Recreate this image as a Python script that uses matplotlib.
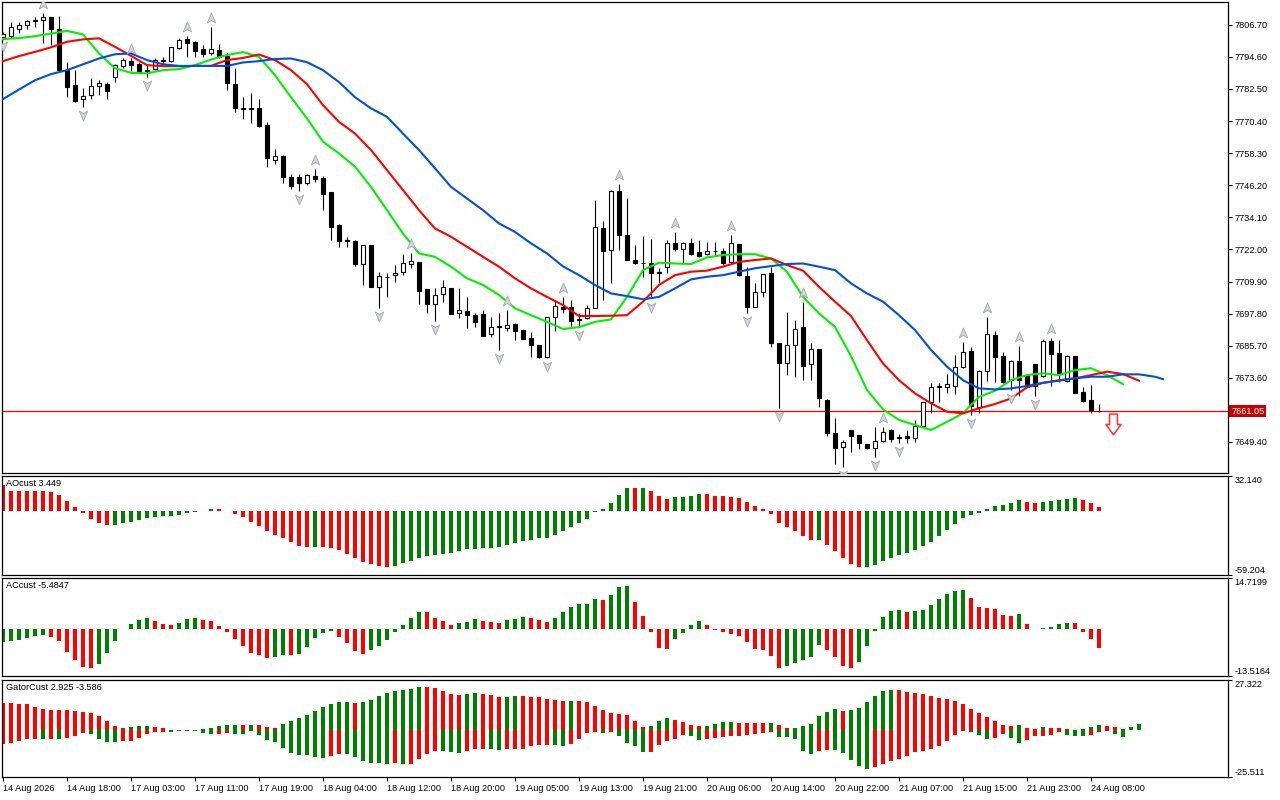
import matplotlib
matplotlib.use('Agg')
import matplotlib.pyplot as plt
import numpy as np
from matplotlib.path import Path
from matplotlib.transforms import offset_copy

plt.rcParams['font.family'] = ['Liberation Sans', 'DejaVu Sans']
plt.rcParams['font.size'] = 6.6

# hourly candles, oldest first
OPEN = [7802.1, 7802.4, 7805.2, 7806.5, 7808.0, 7808.5, 7809.7, 7805.3, 7789.6, 7784.0,
        7778.6, 7780.1, 7783.5, 7784.3, 7787.1, 7791.1, 7793.0, 7791.9, 7789.4, 7789.9,
        7793.6, 7793.1, 7798.0, 7801.3, 7800.2, 7797.4, 7795.9, 7797.2, 7794.9, 7784.3,
        7775.5, 7775.2, 7775.2, 7768.9, 7755.9, 7757.3, 7749.2, 7749.2, 7746.9, 7749.6,
        7748.8, 7743.5, 7731.2, 7725.4, 7725.1, 7716.5, 7723.6, 7707.9, 7711.5, 7712.2,
        7713.6, 7716.4, 7717.1, 7706.9, 7701.4, 7705.2, 7707.3, 7697.9, 7698.9, 7697.2,
        7697.6, 7690.0, 7692.9, 7692.3, 7693.9, 7691.6, 7688.5, 7685.9, 7681.5, 7696.4,
        7700.4, 7700.4, 7695.5, 7696.0, 7699.8, 7729.9, 7721.8, 7744.0, 7727.4, 7718.2,
        7716.8, 7717.0, 7713.3, 7715.2, 7724.3, 7722.0, 7724.3, 7720.9, 7720.2, 7721.3,
        7721.4, 7717.3, 7724.0, 7711.9, 7700.4, 7706.0, 7713.0, 7686.6, 7679.0, 7685.9,
        7692.8, 7678.8, 7684.4, 7665.2, 7652.6, 7647.5, 7653.9, 7652.0, 7648.6, 7647.0,
        7649.9, 7653.9, 7650.8, 7651.6, 7650.8, 7655.5, 7664.6, 7670.3, 7670.2, 7670.5,
        7677.5, 7683.8, 7662.7, 7676.2, 7689.7, 7681.8, 7672.7, 7679.9, 7674.6, 7678.8,
        7674.2, 7687.6, 7682.8, 7672.5, 7681.8, 7668.1, 7665.2, 7661.1]
HIGH = [7803.9, 7807.8, 7807.7, 7808.7, 7809.7, 7811.0, 7809.7, 7810.0, 7792.7, 7789.6,
        7782.7, 7786.5, 7785.8, 7785.2, 7792.1, 7794.2, 7794.0, 7792.7, 7791.5, 7794.0,
        7794.6, 7798.4, 7801.6, 7802.5, 7800.5, 7799.0, 7805.9, 7799.4, 7795.9, 7790.3,
        7779.5, 7780.8, 7778.6, 7769.9, 7759.7, 7757.6, 7750.4, 7750.4, 7750.4, 7752.2,
        7749.6, 7743.5, 7731.6, 7726.8, 7725.5, 7723.6, 7723.6, 7713.6, 7713.2, 7716.0,
        7720.2, 7720.5, 7717.1, 7706.9, 7707.3, 7710.4, 7707.3, 7707.3, 7704.1, 7697.9,
        7699.1, 7696.6, 7697.9, 7699.1, 7694.3, 7691.6, 7690.9, 7685.9, 7696.6, 7702.9,
        7704.1, 7702.9, 7697.9, 7701.0, 7740.6, 7732.7, 7744.4, 7746.6, 7741.5, 7723.6,
        7727.0, 7725.8, 7714.9, 7725.5, 7728.6, 7724.9, 7726.2, 7725.5, 7724.9, 7724.9,
        7722.4, 7727.4, 7724.0, 7715.5, 7709.4, 7712.7, 7715.5, 7686.6, 7698.5, 7695.4,
        7702.3, 7686.8, 7684.4, 7665.5, 7658.3, 7650.1, 7653.9, 7652.0, 7648.6, 7655.1,
        7655.1, 7654.3, 7652.4, 7653.9, 7657.7, 7664.6, 7671.7, 7671.7, 7675.0, 7682.2,
        7687.2, 7685.1, 7676.5, 7696.6, 7691.2, 7683.4, 7680.3, 7685.6, 7674.6, 7678.8,
        7688.1, 7688.5, 7687.8, 7682.3, 7681.8, 7670.2, 7670.9, 7663.9]
LOW = [7801.7, 7801.9, 7803.6, 7805.0, 7805.9, 7799.9, 7799.0, 7789.0, 7779.5, 7777.7,
       7775.8, 7778.9, 7780.4, 7778.8, 7785.2, 7790.3, 7789.2, 7788.4, 7787.1, 7789.6,
       7792.1, 7792.6, 7797.5, 7794.4, 7794.6, 7794.6, 7795.3, 7794.0, 7782.3, 7773.9,
       7771.0, 7769.5, 7768.2, 7753.2, 7754.4, 7747.1, 7744.6, 7744.1, 7746.3, 7747.5,
       7736.8, 7725.5, 7722.8, 7722.8, 7715.8, 7708.6, 7707.7, 7699.8, 7704.1, 7709.8,
       7712.3, 7714.9, 7701.4, 7698.1, 7695.1, 7702.3, 7697.6, 7696.0, 7692.2, 7692.8,
       7689.4, 7688.8, 7684.1, 7691.3, 7687.8, 7688.1, 7681.3, 7680.9, 7680.9, 7691.3,
       7698.0, 7693.1, 7692.8, 7695.6, 7699.8, 7702.9, 7709.2, 7721.8, 7718.0, 7716.5,
       7711.7, 7703.5, 7709.2, 7713.3, 7721.5, 7716.7, 7719.9, 7719.2, 7719.9, 7719.9,
       7716.1, 7716.7, 7711.9, 7697.9, 7700.4, 7703.9, 7685.3, 7662.1, 7674.6, 7674.0,
       7672.7, 7672.7, 7662.4, 7651.6, 7641.1, 7639.9, 7645.7, 7646.7, 7646.8, 7643.6,
       7649.5, 7649.5, 7648.9, 7649.1, 7649.5, 7655.1, 7660.4, 7664.6, 7667.9, 7667.5,
       7677.2, 7659.5, 7660.2, 7672.5, 7672.1, 7671.7, 7669.0, 7666.7, 7670.2, 7666.7,
       7673.8, 7670.5, 7672.1, 7672.1, 7667.7, 7664.6, 7660.2, 7660.8]
CLOSE = [7803.2, 7805.7, 7806.8, 7808.0, 7808.7, 7809.7, 7805.0, 7789.6, 7783.3, 7778.0,
         7779.7, 7783.6, 7784.7, 7781.8, 7791.5, 7793.4, 7791.6, 7788.6, 7789.8, 7793.6,
         7793.1, 7798.2, 7800.9, 7799.9, 7796.9, 7795.6, 7797.4, 7794.4, 7784.6, 7775.5,
         7774.8, 7775.1, 7768.5, 7756.3, 7757.3, 7749.4, 7746.1, 7747.1, 7749.9, 7748.6,
         7742.9, 7730.5, 7725.3, 7725.2, 7716.4, 7723.6, 7707.7, 7711.9, 7711.6, 7713.2,
         7716.7, 7717.5, 7706.4, 7701.4, 7705.0, 7707.7, 7697.6, 7699.1, 7697.2, 7694.7,
         7689.4, 7692.6, 7692.8, 7693.4, 7691.3, 7688.1, 7685.9, 7681.5, 7696.6, 7700.6,
         7699.5, 7695.1, 7695.6, 7699.8, 7730.5, 7721.5, 7744.0, 7727.4, 7718.2, 7716.7,
         7716.7, 7713.0, 7713.2, 7724.3, 7722.0, 7724.3, 7720.2, 7719.6, 7721.4, 7721.4,
         7716.7, 7724.3, 7712.3, 7700.4, 7706.0, 7712.7, 7686.6, 7679.0, 7685.9, 7691.9,
         7678.0, 7684.3, 7665.8, 7652.6, 7647.0, 7649.4, 7651.7, 7648.9, 7647.0, 7649.7,
         7653.3, 7650.4, 7651.4, 7650.8, 7655.4, 7664.3, 7670.0, 7670.6, 7671.1, 7677.8,
         7683.4, 7662.9, 7676.2, 7690.0, 7681.5, 7672.1, 7679.9, 7672.7, 7670.2, 7670.5,
         7687.6, 7682.5, 7675.5, 7681.8, 7668.0, 7664.9, 7661.4, 7661.05]

# alligator lines, read every second bar (they run past the last candle)
LIPS = [7801.3, 7801.7, 7802.4, 7803.4, 7804.4, 7803.1, 7795.9, 7790.3, 7788.6, 7788.4,
        7789.6, 7790.0, 7791.5, 7793.6, 7795.3, 7796.4, 7794.6, 7787.7, 7779.4, 7771.4,
        7762.6, 7758.2, 7753.2, 7745.6, 7736.8, 7728.0, 7720.5, 7719.2, 7715.5, 7711.1,
        7708.6, 7704.8, 7699.8, 7697.2, 7694.7, 7692.0, 7692.7, 7694.7, 7695.6, 7704.1,
        7714.2, 7717.0, 7716.7, 7716.5, 7719.0, 7719.9, 7720.2, 7720.2, 7718.6, 7713.6,
        7704.1, 7697.9, 7692.8, 7681.8, 7669.0, 7661.7, 7657.7, 7655.8, 7653.9, 7657.0,
        7660.2, 7666.4, 7668.7, 7672.7, 7674.6, 7675.3, 7674.6, 7676.5, 7677.2, 7674.6,
        7671.2]
TEETH = [7793.0, 7794.9, 7796.5, 7798.2, 7800.3, 7801.2, 7801.6, 7798.4, 7795.0, 7791.5,
         7791.1, 7791.1, 7791.2, 7791.2, 7793.4, 7794.2, 7795.5, 7793.4, 7789.6, 7784.3,
         7776.4, 7770.1, 7765.7, 7759.5, 7751.9, 7744.4, 7736.8, 7729.9, 7726.8, 7723.0,
         7719.2, 7715.5, 7711.1, 7707.3, 7704.1, 7701.0, 7696.9, 7696.9, 7697.0, 7697.2,
         7702.3, 7708.6, 7712.3, 7713.6, 7714.0, 7715.5, 7717.3, 7718.0, 7718.6, 7716.1,
         7714.0, 7707.9, 7702.3, 7696.9, 7687.8, 7679.0, 7672.7, 7667.7, 7664.0, 7660.8,
         7660.2, 7662.1, 7663.7, 7665.8, 7670.0, 7671.7, 7672.7, 7673.4, 7674.6, 7675.9,
         7675.0, 7672.5]
JAW = [7778.7, 7782.3, 7785.8, 7788.1, 7789.6, 7791.8, 7794.0, 7795.6, 7795.9, 7793.4,
       7791.8, 7791.2, 7791.2, 7791.2, 7791.2, 7792.5, 7793.0, 7793.8, 7794.0, 7792.6,
       7789.6, 7785.1, 7779.4, 7775.2, 7772.0, 7765.7, 7759.5, 7752.6, 7745.6, 7741.2,
       7736.8, 7731.8, 7728.6, 7724.3, 7720.5, 7715.6, 7712.3, 7708.6, 7705.4, 7704.4,
       7703.2, 7704.1, 7707.3, 7710.7, 7711.7, 7712.3, 7713.6, 7714.9, 7715.7, 7716.5,
       7716.7, 7715.5, 7714.2, 7709.2, 7705.4, 7702.3, 7697.2, 7691.6, 7684.1, 7677.8,
       7672.7, 7669.6, 7669.2, 7669.6, 7670.5, 7671.7, 7672.5, 7673.4, 7674.0, 7674.0,
       7674.9, 7674.9, 7674.0, 7673.1]

FRACTAL_UP = [5, 16, 23, 26, 39, 51, 63, 70, 77, 84, 91, 100, 110, 120, 123, 127, 131]
FRACTAL_DOWN = [0, 10, 18, 37, 47, 54, 62, 68, 72, 81, 93, 97, 105, 109, 112, 121, 126, 129]

LAST_PRICE = 7661.05
SIGNAL_BAR = 138.7
SIGNAL_PRICE = 7656.0

PRICE_TICKS = [7806.70, 7794.60, 7782.50, 7770.40, 7758.30, 7746.20, 7734.10,
               7722.00, 7709.90, 7697.80, 7685.70, 7673.60, 7649.40]

AO = [24.1, 18.5, 18.5, 18.5, 18.5, 18.5, 17.3, 14.8, 9.3, 3.7,
      -1.9, -7.4, -11.4, -13.3, -13.1, -11.4, -10.2, -8.3, -6.5, -5.6,
      -5.2, -4.6, -3.7, -1.9, -0.9, 0.2, 1.5, 1.3, -0.6, -2.8,
      -5.6, -10.2, -13.9, -18.5, -22.2, -25.0, -28.7, -32.4, -33.3, -33.1,
      -33.3, -34.6, -36.4, -40.1, -43.5, -47.5, -48.8, -50.6, -51.8, -50.6,
      -48.1, -46.3, -43.5, -41.4, -40.4, -39.8, -39.2, -37.3, -35.5, -35.2,
      -34.6, -34.0, -33.0, -31.5, -29.9, -27.8, -26.5, -25.0, -24.8, -22.2,
      -18.5, -14.8, -11.1, -7.4, -1.2, 1.5, 7.1, 14.5, 21.3, 21.0,
      21.3, 18.2, 13.9, 11.1, 13.0, 13.1, 13.9, 15.7, 15.5, 13.9,
      13.7, 13.0, 12.0, 8.0, 4.3, 1.5, -2.8, -11.4, -14.5, -18.5,
      -23.1, -26.8, -26.5, -31.5, -37.0, -43.5, -49.1, -52.2, -51.9, -50.0,
      -46.0, -43.8, -40.7, -39.2, -36.1, -32.4, -29.0, -23.1, -17.6, -12.3,
      -6.2, -3.7, -1.9, 1.5, 4.0, 5.2, 7.1, 9.6, 8.0, 7.1,
      7.7, 8.9, 9.9, 10.8, 11.7, 9.9, 7.1, 3.449]
AC = [-3.6, -3.5, -3.2, -2.6, -2.0, -1.7, -2.3, -3.5, -6.6, -8.9,
      -10.9, -11.2, -10.1, -6.9, -3.5, 0.1, 1.6, 2.6, 3.2, 2.3,
      1.4, 1.2, 1.7, 2.9, 3.2, 2.6, 2.3, 0.9, -0.9, -2.9,
      -4.9, -6.9, -7.5, -8.4, -8.1, -7.5, -7.6, -7.2, -5.2, -2.6,
      -1.2, -0.6, -2.3, -4.0, -6.3, -7.2, -6.0, -4.9, -3.2, -0.9,
      1.3, 3.2, 4.9, 4.8, 3.2, 2.3, 1.2, 1.7, 2.0, 2.9,
      2.3, 2.0, 1.7, 2.6, 2.9, 3.5, 3.2, 2.6, 2.0, 3.2,
      4.9, 6.3, 7.2, 7.3, 8.6, 8.4, 9.8, 12.1, 12.4, 7.8,
      3.7, -0.9, -5.5, -5.8, -2.9, -1.2, 1.2, 2.3, 1.2, -0.3,
      -0.9, -1.5, -2.0, -3.7, -5.8, -6.0, -7.8, -11.2, -10.7, -9.8,
      -8.9, -8.1, -4.6, -6.0, -8.1, -10.7, -11.2, -9.5, -4.9, -0.6,
      3.5, 5.2, 5.5, 4.9, 5.2, 5.5, 6.9, 8.6, 10.1, 10.9,
      11.2, 8.9, 6.3, 6.0, 5.8, 4.0, 3.7, 4.3, 1.4, 0.05,
      0.2, 0.5, 1.4, 1.8, 1.7, -0.9, -2.9, -5.4847]
GATOR_UP = [14.9, 14.85, 14.2, 14.15, 12.7, 11.6, 11.1, 11.0, 10.9, 10.35,
            9.8, 9.26, 7.63, 4.9, 2.18, 1.09, 1.63, 2.18, 2.25, 1.63,
            1.09, 0.3, 0.2, 0.1, 0.2, 0.7, 1.27, 2.18, 2.72, 2.75,
            2.7, 2.75, 2.7, 1.63, 1.09, 3.27, 4.9, 6.7, 8.2, 10.35,
            12.5, 14.2, 15.25, 15.3, 14.7, 15.25, 16.3, 18.5, 20.2, 21.25,
            21.8, 22.3, 23.4, 23.35, 22.9, 21.25, 19.6, 19.1, 19.6, 20.2,
            19.6, 19.1, 18.0, 18.05, 18.5, 18.45, 18.0, 17.95, 16.9, 16.35,
            15.8, 15.85, 15.8, 15.25, 13.1, 10.9, 9.26, 8.7, 8.2, 4.9,
            1.63, 2.18, 4.9, 6.5, 5.45, 4.36, 2.72, 2.18, 2.2, 3.27,
            4.36, 4.4, 3.8, 3.75, 3.7, 3.65, 3.7, 2.72, 1.09, 1.1,
            2.18, 3.27, 7.63, 9.8, 11.44, 10.35, 10.9, 12.0, 15.25, 18.5,
            21.25, 21.8, 21.75, 20.7, 20.2, 19.6, 18.5, 17.4, 16.9, 15.8,
            14.2, 11.4, 9.3, 7.1, 4.9, 2.7, 2.2, 2.7, 1.1, 0.5,
            1.6, 1.1, 1.05, 0.5, 0.1, 0.55, 1.6, 2.925, 2.2, 1.6,
            0.5, 1.6, 3.27]
GATOR_DOWN = [-7.8, -6.9, -5.8, -4.7, -4.65, -4.75, -4.7, -4.75, -4.2, -3.3,
              -1.5, -2.2, -4.7, -6.4, -6.45, -5.8, -5.75, -4.2, -2.0, -0.9,
              -0.85, -1.0, -0.7, -0.2, -0.3, -1.45, -2.0, -1.95, -1.45, -2.0,
              -2.05, -0.36, -2.5, -5.3, -6.4, -9.6, -12.3, -13.4, -13.6, -14.7,
              -15.25, -14.2, -13.1, -13.15, -14.7, -16.9, -18.0, -18.05, -18.5, -18.0,
              -18.5, -18.45, -15.8, -12.9, -11.3, -11.35, -11.8, -12.35, -11.3, -10.2,
              -10.15, -10.2, -10.7, -10.2, -10.15, -10.1, -8.5, -8.0, -7.95, -8.0,
              -8.5, -7.45, -4.7, -1.45, -0.9, -1.3, -0.9, -3.1, -6.9, -8.5,
              -11.8, -11.75, -8.0, -5.8, -4.7, -2.5, -3.1, -5.3, -4.7, -4.2,
              -3.6, -3.1, -3.05, -2.5, -2.0, -1.45, -0.9, -3.6, -3.65, -4.7,
              -11.3, -12.9, -11.3, -10.7, -10.75, -12.35, -16.2, -19.4, -21.1, -20.0,
              -18.3, -16.9, -15.8, -14.2, -12.0, -11.4, -10.35, -8.7, -6.0, -2.7,
              -0.5, -1.1, -2.7, -4.9, -4.4, -2.2, -4.4, -7.1, -5.4, -3.3,
              -3.25, -2.7, -1.1, -2.7, -3.3, -3.35, -2.7, -1.1, -0.5, -2.2,
              -3.586]

AO_RANGE = (-59.204, 32.140)
AC_RANGE = (-13.5164, 14.7199)
GATOR_RANGE = (-25.511, 27.322)

TIME_LABELS = ['14 Aug 2026', '14 Aug 18:00', '17 Aug 03:00', '17 Aug 11:00',
               '17 Aug 19:00', '18 Aug 04:00', '18 Aug 12:00', '18 Aug 20:00',
               '19 Aug 05:00', '19 Aug 13:00', '19 Aug 21:00', '20 Aug 06:00',
               '20 Aug 14:00', '20 Aug 22:00', '21 Aug 07:00', '21 Aug 15:00',
               '21 Aug 23:00', '24 Aug 08:00']

GREEN = '#008000'
RED = '#ff0000'


def trend_colors(values, first):
    # gator: green when the bar grows in size
    v = np.abs(values)
    cols = [first]
    for a, b in zip(v[:-1], v[1:]):
        cols.append(GREEN if b > a else RED)
    return cols


def signed_trend_colors(values, first):
    cols = [first]
    for a, b in zip(values[:-1], values[1:]):
        cols.append(GREEN if b > a else RED)
    return cols


W, H = 1280, 800
fig = plt.figure(figsize=(W / 100, H / 100), dpi=100)


def box(l, t, r, b):
    return [l / W, 1 - b / H, (r - l) / W, (b - t) / H]


ax = fig.add_axes(box(2, 2, 1228, 473))
ax_ao = fig.add_axes(box(2, 476, 1228, 575))
ax_ac = fig.add_axes(box(2, 578, 1228, 676))
ax_g = fig.add_axes(box(2, 680, 1228, 777))

for a in (ax, ax_ao, ax_ac, ax_g):
    a.set_xlim(-0.125, 153.125)
    for s in a.spines.values():
        s.set_linewidth(0.9)
        s.set_color('black')
    a.tick_params(left=False, labelleft=False, bottom=False, labelbottom=False,
                  right=True, labelright=True, direction='out', length=3,
                  width=0.8, pad=1.5)

# candles
x = np.arange(len(OPEN))
o, h, l, c = map(np.array, (OPEN, HIGH, LOW, CLOSE))
ax.vlines(x, l, h, color='black', lw=0.8, zorder=2)
bull = c > o
ax.bar(x, np.maximum(np.abs(c - o), 0.15), bottom=np.minimum(o, c), width=0.56,
       color=np.where(bull, 'white', 'black'), edgecolor='black', linewidth=0.8, zorder=3)

# alligator
ax.plot(np.arange(0, 2 * len(LIPS), 2), LIPS, color='#00f000', lw=1.5, zorder=4)
ax.plot(np.arange(0, 2 * len(TEETH), 2), TEETH, color='#ff0000', lw=1.5, zorder=4)
jaw_x = np.append(np.arange(0, 2 * (len(JAW) - 1), 2), 2 * (len(JAW) - 2) + 1)
ax.plot(jaw_x, JAW, color='#0050d8', lw=1.5, zorder=4)

# fractals
frac = Path([(0, 1), (0.75, -0.8), (0, -0.35), (-0.75, -0.8), (0, 1)],
            [Path.MOVETO, Path.LINETO, Path.LINETO, Path.LINETO, Path.CLOSEPOLY])
frac_dn = Path(frac.vertices * [1, -1], frac.codes)
up_tr = offset_copy(ax.transData, fig=fig, y=6.5, units='points')
dn_tr = offset_copy(ax.transData, fig=fig, y=-5.8, units='points')
ax.plot(FRACTAL_UP, h[FRACTAL_UP], ls='none', marker=frac, ms=8,
        mfc='#d2d5dc', mec='#a4a7b0', mew=0.6, transform=up_tr, zorder=5)
ax.plot(FRACTAL_DOWN, l[FRACTAL_DOWN], ls='none', marker=frac_dn, ms=8,
        mfc='#d2d5dc', mec='#a4a7b0', mew=0.6, transform=dn_tr, zorder=5)

# last price line and label
ax.axhline(LAST_PRICE, color='#ff0000', lw=0.9, zorder=1)
ax.annotate(f'{LAST_PRICE:.2f}', xy=(1, LAST_PRICE), xycoords=('axes fraction', 'data'),
            xytext=(2.2, 0), textcoords='offset points', ha='left', va='center',
            color='white', annotation_clip=False,
            bbox=dict(boxstyle='square,pad=0.18', fc='#c80000', ec='none'))

# sell signal arrow
arrow = Path([(-0.38, 1), (0.38, 1), (0.38, 0.0), (0.72, 0.0), (0, -1),
              (-0.72, 0.0), (-0.38, 0.0), (-0.38, 1)],
             [Path.MOVETO] + [Path.LINETO] * 6 + [Path.CLOSEPOLY])
ax.plot([SIGNAL_BAR], [SIGNAL_PRICE], ls='none', marker=arrow, ms=15,
        mfc='white', mec='#ff3030', mew=1.1, zorder=5)

ax.set_ylim(7637.7, 7815.3)
ax.set_yticks(PRICE_TICKS, labels=[f'{v:.2f}' for v in PRICE_TICKS])

# oscillators
ax_ao.bar(np.arange(len(AO)), AO, width=0.5, linewidth=0,
          color=signed_trend_colors(AO, RED))
ax_ac.bar(np.arange(len(AC)), AC, width=0.5, linewidth=0,
          color=signed_trend_colors(AC, GREEN))
ax_g.bar(np.arange(len(GATOR_UP)), GATOR_UP, width=0.5, linewidth=0,
         color=trend_colors(GATOR_UP, RED))
ax_g.bar(np.arange(len(GATOR_DOWN)), GATOR_DOWN, width=0.5, linewidth=0,
         color=trend_colors(GATOR_DOWN, RED))

panels = [(ax_ao, AO_RANGE, '{:.3f}', f'AOcust {AO[-1]}'),
          (ax_ac, AC_RANGE, '{:.4f}', f'ACcust {AC[-1]}'),
          (ax_g, GATOR_RANGE, '{:.3f}', f'GatorCust {GATOR_UP[137]} {GATOR_DOWN[-1]}')]
for a, rng, fmt, title in panels:
    a.set_ylim(*rng)
    a.set_yticks(rng, labels=[fmt.format(v) for v in rng])
    labs = a.get_yticklabels()
    labs[0].set_verticalalignment('bottom')
    labs[1].set_verticalalignment('top')
    a.annotate(title, xy=(0, 1), xycoords='axes fraction', xytext=(3, -2),
               textcoords='offset points', ha='left', va='top')

ax_g.set_xticks(np.arange(0, 8 * len(TIME_LABELS), 8), labels=TIME_LABELS)
ax_g.tick_params(axis='x', bottom=True, labelbottom=True, length=3, pad=2)
for lab in ax_g.get_xticklabels():
    lab.set_horizontalalignment('left')

fig.savefig('out.png', dpi=100)
